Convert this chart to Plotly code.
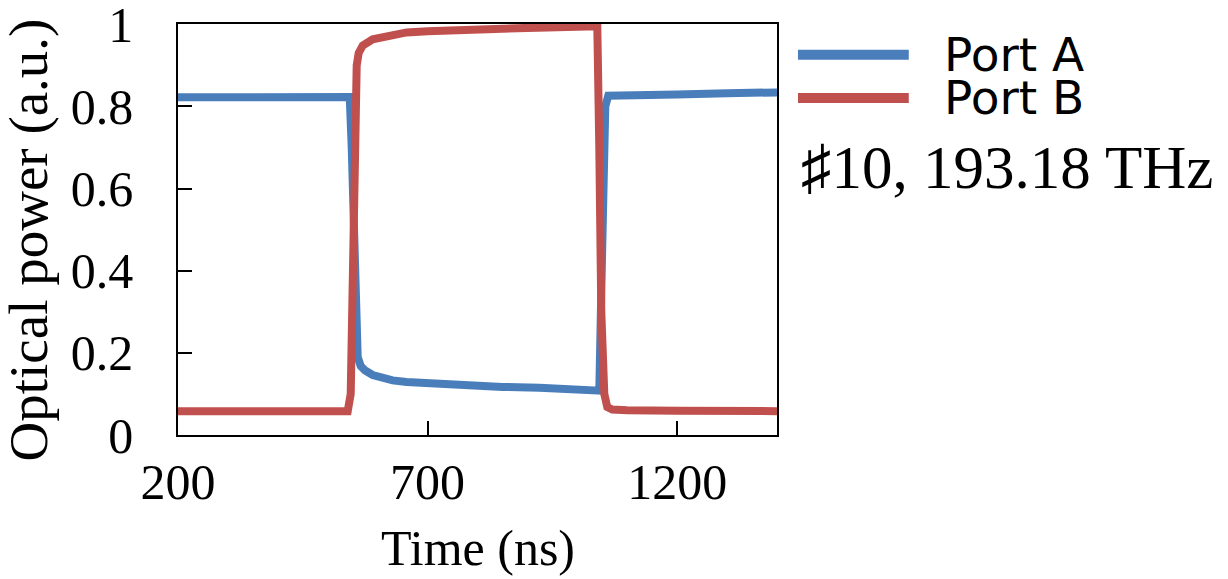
import plotly.graph_objects as go

# values
time_a = [200, 300, 400, 500, 544, 548, 552, 556, 560, 566, 575, 590, 610, 630, 658,
          700, 750, 790, 850, 924, 980, 1030, 1044, 1048, 1052, 1056, 1062, 1100,
          1200, 1300, 1400]
port_a = [0.822, 0.823, 0.821, 0.824, 0.823, 0.70, 0.45, 0.25, 0.19, 0.168, 0.157,
          0.146, 0.138, 0.133, 0.129, 0.126, 0.122, 0.120, 0.117, 0.115, 0.112,
          0.110, 0.108, 0.35, 0.65, 0.80, 0.826, 0.828, 0.829, 0.832, 0.834]

time_b = [200, 300, 400, 500, 540, 546, 550, 554, 558, 562, 570, 590, 620, 658, 700,
          790, 900, 1000, 1040, 1044, 1048, 1054, 1060, 1070, 1100, 1200, 1300, 1400]
port_b = [0.058, 0.057, 0.058, 0.057, 0.058, 0.10, 0.40, 0.75, 0.90, 0.93, 0.948,
          0.963, 0.972, 0.98, 0.983, 0.988, 0.991, 0.994, 0.995, 0.7, 0.3, 0.1,
          0.068, 0.062, 0.060, 0.059, 0.058, 0.058]

x_ticks = [200, 700, 1200]
y_ticks = [0, 0.2, 0.4, 0.6, 0.8, 1]
y_tick_text = ["0", "0.2", "0.4", "0.6", "0.8", "1"]

blue = "#4A7EBB"
red = "#C0504D"
serif = "Times New Roman, Liberation Serif, serif"
sans = "DejaVu Sans, Arial, sans-serif"

fig = go.Figure()
fig.add_trace(go.Scatter(x=time_a, y=port_a, mode="lines", name="Port A",
                         line=dict(color=blue, width=8), cliponaxis=False))
fig.add_trace(go.Scatter(x=time_b, y=port_b, mode="lines", name="Port B",
                         line=dict(color=red, width=8), cliponaxis=False))

axis_style = dict(showline=True, linecolor="black", linewidth=1.5, mirror=True,
                  ticks="inside", ticklen=14, tickwidth=1.5, tickcolor="black",
                  showgrid=False, zeroline=False, automargin=False,
                  ticklabeloverflow="allow",
                  tickfont=dict(family=serif, size=50, color="black"))

fig.update_xaxes(range=[200, 1400], tickvals=x_ticks, ticklabelstandoff=2, **axis_style)
fig.update_yaxes(range=[0, 1.0005], tickvals=y_ticks, ticktext=y_tick_text,
                 ticklabelstandoff=33, **axis_style)

# axis titles
fig.add_annotation(text="Time (ns)", xref="paper", yref="paper", x=0.5, y=-0.275,
                   xanchor="center", yanchor="middle", showarrow=False,
                   font=dict(family=serif, size=50, color="black"))
fig.add_annotation(text="Optical power (a.u.)", xref="paper", yref="paper", x=-0.25,
                   y=0.474, xanchor="center", yanchor="middle", textangle=-90,
                   showarrow=False, font=dict(family=serif, size=55, color="black"))

# legend drawn by hand (long line samples)
for name, color, ly in [("Port A", blue, 0.925), ("Port B", red, 0.82)]:
    fig.add_shape(type="line", xref="paper", yref="paper", x0=1.035, x1=1.22,
                  y0=ly, y1=ly, line=dict(color=color, width=10))
    fig.add_annotation(text=name, xref="paper", yref="paper", x=1.275, y=ly,
                       xanchor="left", yanchor="middle", showarrow=False,
                       font=dict(family=sans, size=47, color="black"))

fig.add_annotation(text="♯10, 193.18 THz", xref="paper", yref="paper", x=1.037, y=0.65,
                   xanchor="left", yanchor="middle", showarrow=False,
                   font=dict(family=serif, size=61, color="black"))

# the page adds an 8px body margin, so margins are trimmed by 8 to keep the plot box in place
fig.update_layout(width=1228, height=579, showlegend=False,
                  plot_bgcolor="white", paper_bgcolor="white",
                  margin=dict(l=170, r=459, t=16, b=152, autoexpand=False))

fig.write_html("out.html")
